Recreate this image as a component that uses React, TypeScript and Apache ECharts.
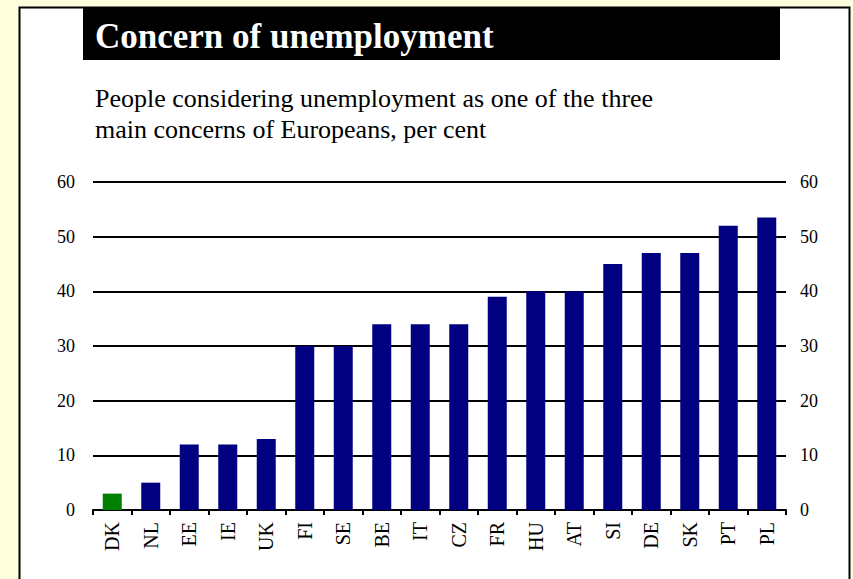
import React, { useEffect, useRef } from "react";
import * as echarts from "echarts";

const countries = ["DK", "NL", "EE", "IE", "UK", "FI", "SE", "BE", "IT", "CZ", "FR", "HU", "AT", "SI", "DE", "SK", "PT", "PL"];
const shares = [3, 5, 12, 12, 13, 30, 30, 34, 34, 34, 39, 40, 40, 45, 47, 47, 52, 53.5];
const highlighted = ["DK"];
const titleText = "Concern of unemployment";
const subtitleLines = [
  "People considering unemployment as one of the three",
  "main concerns of Europeans, per cent",
];

const FONT = "'Liberation Serif', 'DejaVu Serif', serif";

export default function App() {
  const ref = useRef<HTMLDivElement>(null);
  useEffect(() => {
    if (!ref.current) return;
    const chart = echarts.init(ref.current, undefined, { renderer: "svg" });
    const yAxisBase = {
      type: "value" as const,
      min: 0,
      max: 60,
      interval: 10,
      axisLine: { show: false },
      axisTick: { show: false },
      axisLabel: { color: "#000", fontFamily: FONT, fontSize: 18 },
    };
    chart.setOption({
      animation: false,
      backgroundColor: "#FFFFDD",
      graphic: [
        {
          type: "rect",
          shape: { x: 19.5, y: 7.5, width: 830, height: 620 },
          style: { fill: "#fff", stroke: "#000", lineWidth: 2 },
          z: -10,
        },
        {
          type: "rect",
          shape: { x: 83, y: 8, width: 697, height: 52 },
          style: { fill: "#000" },
          z: -9,
        },
        {
          type: "text",
          x: 95,
          y: 36,
          style: {
            text: titleText,
            fill: "#fff",
            font: `bold 35px ${FONT}`,
            verticalAlign: "middle",
          },
        },
        {
          type: "text",
          x: 95,
          y: 98,
          style: {
            text: subtitleLines[0],
            fill: "#000",
            font: `26px ${FONT}`,
            verticalAlign: "middle",
          },
        },
        {
          type: "text",
          x: 95,
          y: 129,
          style: {
            text: subtitleLines[1],
            fill: "#000",
            font: `26px ${FONT}`,
            verticalAlign: "middle",
          },
        },
      ],
      grid: { left: 93, right: 67, top: 182, bottom: 69, containLabel: false },
      xAxis: {
        type: "category",
        data: countries,
        boundaryGap: true,
        axisLine: { lineStyle: { color: "#000", width: 2 } },
        axisTick: { show: true, length: 5, lineStyle: { color: "#000", width: 2 } },
        axisLabel: {
          rotate: 90,
          color: "#000",
          fontFamily: FONT,
          fontSize: 20,
          margin: 12,
          interval: 0,
        },
      },
      yAxis: [
        {
          ...yAxisBase,
          position: "left",
          axisLabel: { ...yAxisBase.axisLabel, margin: 18 },
          splitLine: { show: true, lineStyle: { color: "#000", width: 2 } },
        },
        {
          ...yAxisBase,
          position: "right",
          axisLabel: { ...yAxisBase.axisLabel, margin: 14 },
          splitLine: { show: false },
        },
      ],
      series: [
        {
          type: "bar",
          yAxisIndex: 0,
          barWidth: 19,
          data: shares.map((v, i) => ({
            value: v,
            itemStyle: { color: highlighted.includes(countries[i]) ? "#008000" : "#000080" },
          })),
          z: 3,
        },
      ],
    });
    return () => chart.dispose();
  }, []);
  return (
    <div
      ref={ref}
      style={{ position: "fixed", left: 0, top: 0, width: 853, height: 579 }}
    />
  );
}
